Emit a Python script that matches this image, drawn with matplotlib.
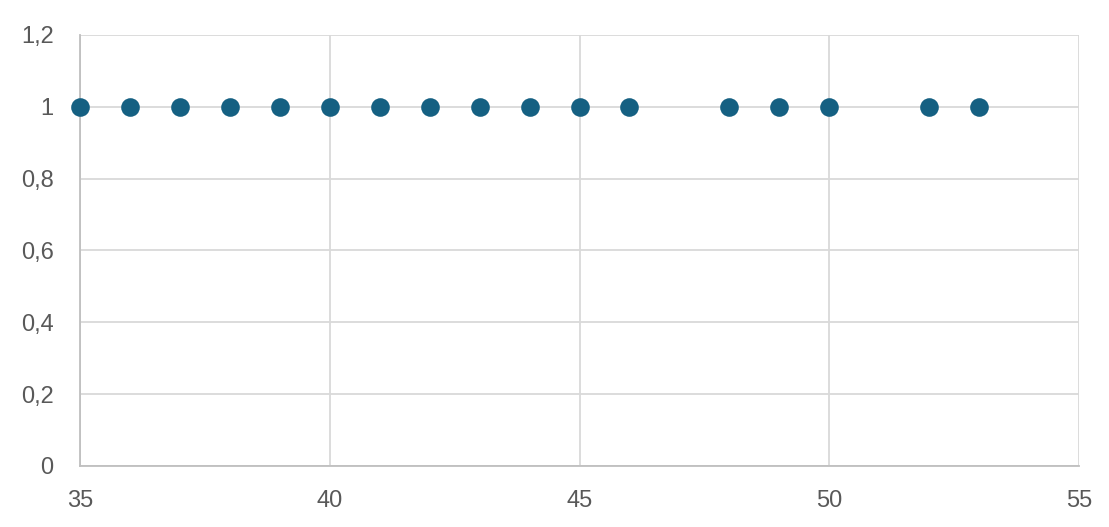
import matplotlib
matplotlib.use("Agg")
import matplotlib.pyplot as plt
from matplotlib.ticker import FuncFormatter, MultipleLocator

x_values = [35, 36, 37, 38, 39, 40, 41, 42, 43, 44, 45, 46, 48, 49, 50, 52, 53]
y_values = [1, 1, 1, 1, 1, 1, 1, 1, 1, 1, 1, 1, 1, 1, 1, 1, 1]

plt.rcParams['font.family'] = ['Liberation Sans', 'DejaVu Sans']

fig = plt.figure(figsize=(11.09, 5.27), dpi=100)
ax = fig.add_axes([80/1109, (527-466)/527, 999/1109, 431/527])

ax.scatter(x_values, y_values, s=180, color='#156082', zorder=3, clip_on=False, linewidths=0)

ax.set_xlim(35, 55)
ax.set_ylim(0, 1.2)
ax.xaxis.set_major_locator(MultipleLocator(5))
ax.yaxis.set_major_locator(MultipleLocator(0.2))

def fmt(v, pos):
    s = f"{v:.1f}".rstrip('0').rstrip('.')
    return s.replace('.', ',')

ax.yaxis.set_major_formatter(FuncFormatter(fmt))
ax.xaxis.set_major_formatter(FuncFormatter(lambda v, p: f"{int(round(v))}"))

ax.grid(True, color='#d9d9d9', linewidth=1.3, zorder=0)
ax.set_axisbelow(True)
for side in ['top', 'right']:
    ax.spines[side].set_visible(False)
for side in ['left', 'bottom']:
    ax.spines[side].set_color('#bfbfbf')
    ax.spines[side].set_linewidth(1.3)

ax.tick_params(axis='both', length=0, labelsize=17, labelcolor='#595959')
ax.tick_params(axis='y', pad=19)
ax.tick_params(axis='x', pad=17)

fig.savefig('out.png', dpi=100, facecolor='white')
